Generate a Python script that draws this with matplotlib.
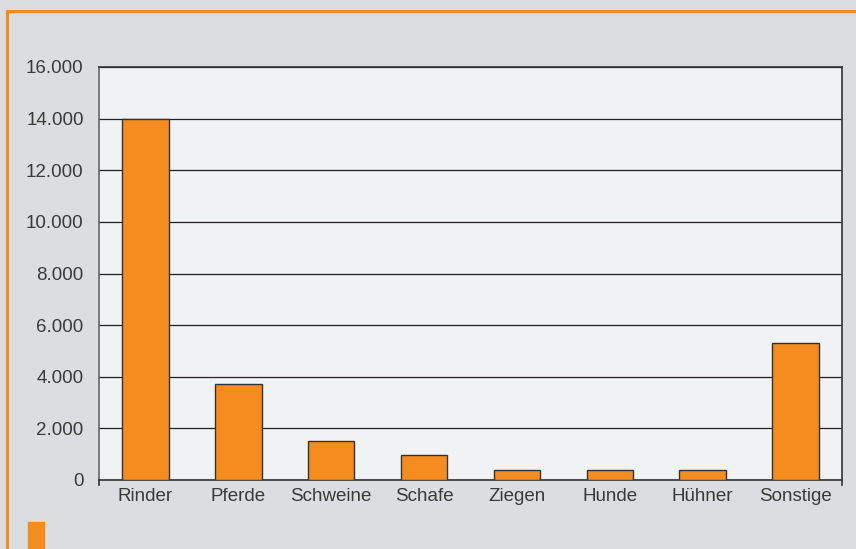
import matplotlib.pyplot as plt
from matplotlib.patches import Rectangle
from matplotlib.ticker import FuncFormatter
from matplotlib.lines import Line2D

# Tierarten und Anzahl
tierarten = ["Rinder", "Pferde", "Schweine", "Schafe", "Ziegen", "Hunde", "Hühner", "Sonstige"]
anzahl = [14000, 3700, 1500, 950, 400, 400, 400, 5300]
yticks = [0, 2000, 4000, 6000, 8000, 10000, 12000, 14000, 16000]

orange = "#f58c1f"
plt.rcParams['font.family'] = ['Liberation Sans', 'DejaVu Sans']

fig = plt.figure(figsize=(8.56, 5.49), dpi=100, facecolor="#dcdde0")
ax = fig.add_axes([99 / 856, 1 - 480 / 549, 743 / 856, 413 / 549])
ax.set_facecolor("#f1f2f4")

x = range(len(tierarten))
ax.bar(x, anzahl, width=0.5, color=orange, edgecolor="#333333", linewidth=1, zorder=3)

ax.set_xlim(-0.5, len(tierarten) - 0.5)
ax.set_ylim(0, 16000)
ax.set_yticks(yticks)
ax.yaxis.set_major_formatter(FuncFormatter(lambda v, p: f"{int(v):,}".replace(",", ".")))
ax.grid(axis="y", color="#222222", linewidth=0.9, zorder=1)
ax.set_xticks(list(x))
ax.set_xticklabels(tierarten)
ax.tick_params(axis="both", length=0, labelsize=13.5, labelcolor="#3a3a3a", pad=6)
ax.tick_params(axis="y", pad=11)

for s in ax.spines.values():
    s.set_color("#333333")
    s.set_linewidth(1.2)
ax.spines["left"].set_color("#666666")

# kleine Markierungen unter den Achsenenden
for xe in (-0.5, len(tierarten) - 0.5):
    ax.plot([xe, xe], [0, -0.012], transform=ax.get_xaxis_transform(),
            color="#333333", linewidth=1.2, clip_on=False)

# orangefarbener Rahmen oben und links
fig.add_artist(Line2D([7 / 856, 1], [1 - 10.5 / 549] * 2, color=orange, linewidth=2.2))
fig.add_artist(Line2D([7 / 856] * 2, [0, 1 - 10.5 / 549], color=orange, linewidth=2.2))

# Legendenfeld
fig.add_artist(Rectangle((28 / 856, 0), 16 / 856, 27 / 549, color=orange,
                         transform=fig.transFigure))

fig.savefig("out.png", dpi=100, facecolor=fig.get_facecolor())
